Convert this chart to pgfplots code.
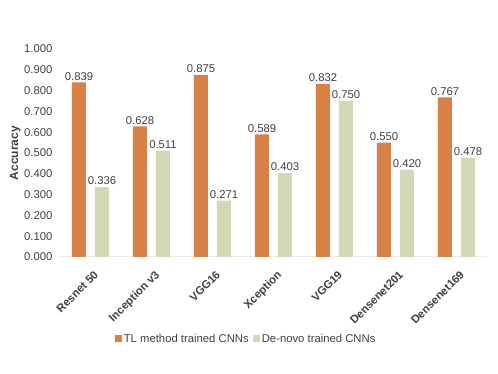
\documentclass[border=0pt]{standalone}
\usepackage{fontspec}
\setmainfont{Liberation Sans}
\usepackage{pgfplots}
\pgfplotsset{compat=1.18}
\definecolor{tlorange}{RGB}{216,128,70}
\definecolor{dngreen}{RGB}{211,216,180}
\definecolor{txt}{RGB}{64,64,64}

\begin{document}
\begin{tikzpicture}
\path[use as bounding box] (-60pt,-117pt) rectangle (438pt,257pt);
\begin{axis}[
    at={(0,0)}, anchor=south west,
    scale only axis,
    width=427pt, height=208pt,
    ybar=9pt, bar width=14pt,
    xmin=-0.5, xmax=6.5,
    ymin=0, ymax=1,
    ytick distance=0.1,
    xtick=data,
    xticklabels={Resnet 50, Inception v3, VGG16, Xception, VGG19, Densenet201, Densenet169},
    x tick label style={rotate=45, anchor=north east, font=\fontsize{11.3}{13}\selectfont\bfseries, text=txt, inner sep=1pt, xshift=-6pt, yshift=-10pt},
    y tick label style={font=\fontsize{11.3}{13}\selectfont, text=txt, xshift=-4pt, /pgf/number format/.cd, fixed, fixed zerofill, precision=3},
    /pgf/number format/assume math mode=true,
    major tick length=0pt,
    axis x line*=bottom, axis y line*=left,
    separate axis lines,
    x axis line style={draw=gray!15, line width=1pt, -},
    y axis line style={draw=none},
    ylabel={Accuracy},
    ylabel style={at={(axis description cs:-0.105,0.5)}, anchor=center, font=\fontsize{12}{14}\selectfont\bfseries, text=txt},
    nodes near coords={\pgfmathprintnumber[fixed,fixed zerofill,precision=3,assume math mode=true]{\pgfplotspointmeta}},
    every node near coord/.append style={font=\fontsize{11.3}{13}\selectfont, text=txt, inner sep=2pt},
    legend style={at={(0.436,-0.394)}, anchor=center, draw=none, legend columns=2, font=\fontsize{11.3}{13}\selectfont, text=txt,
        /tikz/every even column/.append style={column sep=2pt}},
    legend image code/.code={\fill[#1] (0pt,-3.5pt) rectangle (7pt,3.5pt);},
]
\addplot[fill=tlorange, draw=none] coordinates {(0,0.839) (1,0.628) (2,0.875) (3,0.589) (4,0.832) (5,0.550) (6,0.767)};
\addplot[fill=dngreen, draw=none] coordinates {(0,0.336) (1,0.511) (2,0.271) (3,0.403) (4,0.750) (5,0.420) (6,0.478)};
\legend{TL method trained CNNs, De-novo trained CNNs}
\end{axis}
\end{tikzpicture}
\end{document}
